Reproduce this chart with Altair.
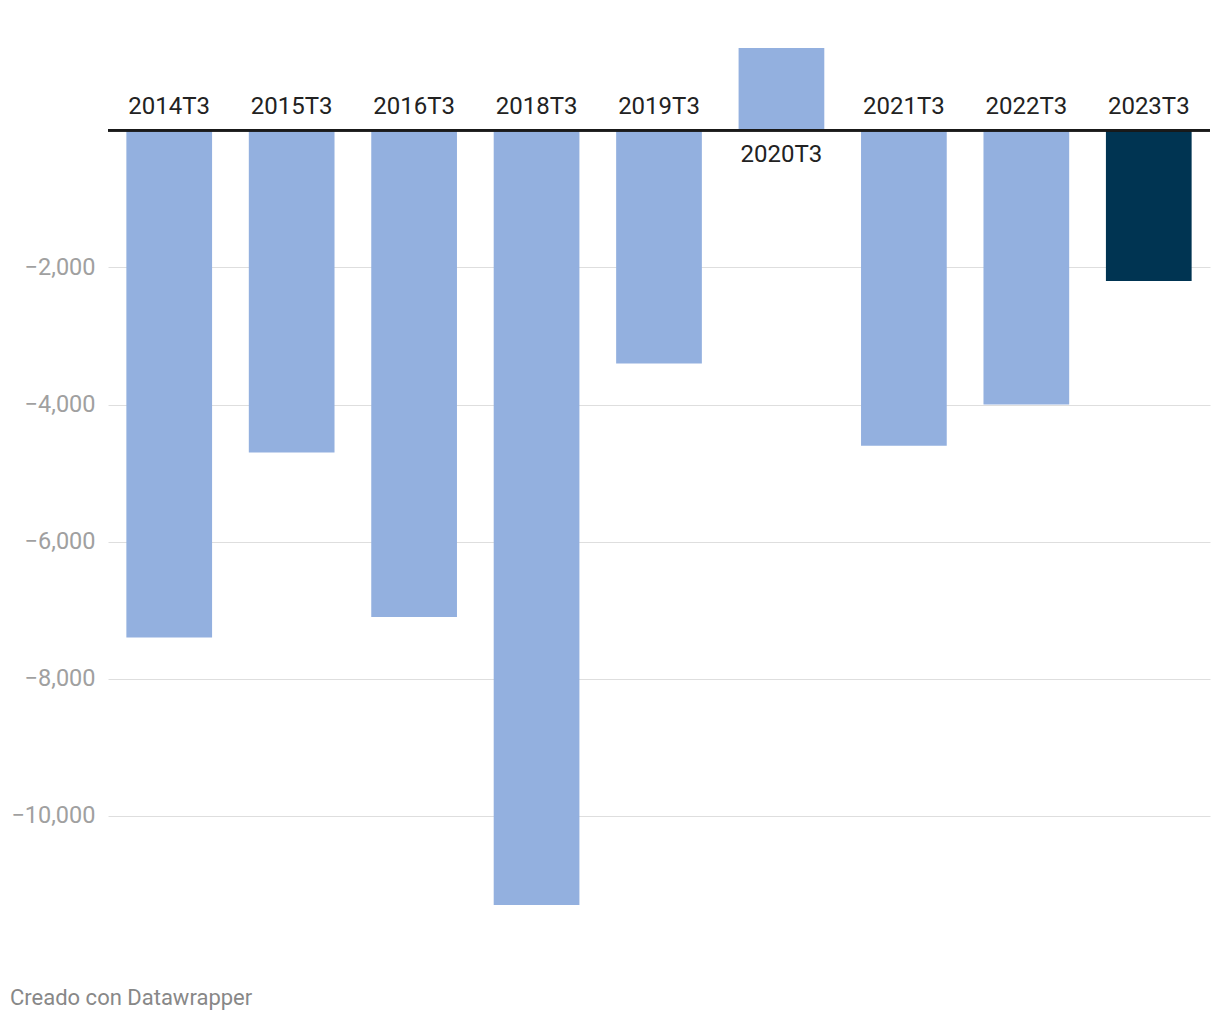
import altair as alt
import pandas as pd

categories = ["2014T3", "2015T3", "2016T3", "2018T3", "2019T3", "2020T3", "2021T3", "2022T3", "2023T3"]
values = [-7400, -4700, -7100, -11300, -3400, 1200, -4600, -4000, -2200]
bar_colors = ["#93b0df"] * 8 + ["#003452"]
y_ticks = [-10000, -8000, -6000, -4000, -2000]

df = pd.DataFrame({"cat": categories, "val": values, "color": bar_colors})

FONT = "Roboto"

x_enc = alt.X("cat:N", sort=categories, axis=None,
              scale=alt.Scale(paddingInner=0.3, paddingOuter=0.15))
y_scale = alt.Scale(domain=[-12000, 1200], nice=False, zero=False)

base = alt.Chart(df)

bars = base.mark_bar().encode(
    x=x_enc,
    y=alt.Y("val:Q", scale=y_scale, title=None,
            axis=alt.Axis(values=y_ticks, format=",.0f", grid=True, gridColor="#dedede",
                          domain=False, ticks=False, labelPadding=13,
                          labelFont=FONT, labelFontSize=23.5, labelColor="#a0a0a0")),
    color=alt.Color("color:N", scale=None),
)

zero = base.mark_rule(color="#1a1a1a", strokeWidth=2).encode(
    y=alt.datum(0),
)

neg_labels = base.transform_filter("datum.val < 0").mark_text(
    font=FONT, fontSize=24, color="#222222", baseline="alphabetic", dy=-16
).encode(x=x_enc, y=alt.datum(0), text="cat:N")

pos_labels = base.transform_filter("datum.val >= 0").mark_text(
    font=FONT, fontSize=24, color="#222222", baseline="alphabetic", dy=32
).encode(x=x_enc, y=alt.datum(0), text="cat:N")

chart = alt.layer(bars, zero, neg_labels, pos_labels).properties(
    width=1102,
    height=905,
    autosize=alt.AutoSizeParams(type="none"),
    padding={"left": 100, "top": 40, "right": 2, "bottom": 62},
    title=alt.TitleParams(
        "Creado con Datawrapper", orient="bottom", anchor="start", frame="group",
        dx=-98, offset=35, font=FONT, fontSize=22, fontWeight="normal", color="#888888"
    ),
).configure_view(stroke=None)

chart.save("out.html", embed_options={"renderer": "svg", "actions": False})
